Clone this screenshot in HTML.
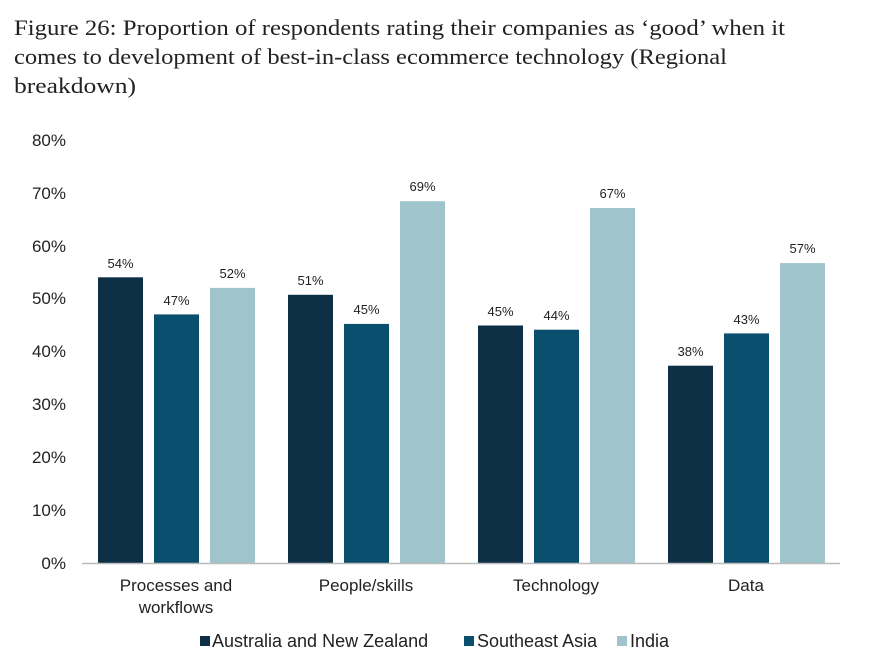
<!DOCTYPE html>
<html><head><style>
body{margin:0;background:#fff;width:870px;height:670px;overflow:hidden}
svg{display:block}
.t{font-family:"Liberation Serif",serif;font-size:22px;fill:#222}
.a{font-family:"Liberation Sans",sans-serif;font-size:17px;fill:#222}
.l{font-family:"Liberation Sans",sans-serif;font-size:18px;fill:#222}
.v{font-family:"Liberation Sans",sans-serif;font-size:13px;fill:#222}
</style></head><body>
<svg width="870" height="670" xmlns="http://www.w3.org/2000/svg">
<text class="t" x="14" y="35" textLength="771" lengthAdjust="spacingAndGlyphs">Figure 26: Proportion of respondents rating their companies as ‘good’ when it</text>
<text class="t" x="14" y="64" textLength="713" lengthAdjust="spacingAndGlyphs">comes to development of best-in-class ecommerce technology (Regional</text>
<text class="t" x="14" y="93" textLength="122" lengthAdjust="spacingAndGlyphs">breakdown)</text>
<g class="a" text-anchor="end">
<text x="66" y="569">0%</text><text x="66" y="516">10%</text><text x="66" y="463">20%</text><text x="66" y="410">30%</text><text x="66" y="357">40%</text><text x="66" y="304">50%</text><text x="66" y="252">60%</text><text x="66" y="199">70%</text><text x="66" y="146">80%</text>
</g>
<rect x="98" y="277.3" width="45" height="285.7" fill="#0e3047"/>
<rect x="154" y="314.4" width="45" height="248.6" fill="#0a4f6e"/>
<rect x="210" y="287.9" width="45" height="275.1" fill="#a0c4cc"/>
<rect x="288" y="294.8" width="45" height="268.2" fill="#0e3047"/>
<rect x="344" y="323.9" width="45" height="239.1" fill="#0a4f6e"/>
<rect x="400" y="201.2" width="45" height="361.8" fill="#a0c4cc"/>
<rect x="478" y="325.5" width="45" height="237.5" fill="#0e3047"/>
<rect x="534" y="329.7" width="45" height="233.3" fill="#0a4f6e"/>
<rect x="590" y="208.0" width="45" height="355.0" fill="#a0c4cc"/>
<rect x="668" y="365.7" width="45" height="197.3" fill="#0e3047"/>
<rect x="724" y="333.4" width="45" height="229.6" fill="#0a4f6e"/>
<rect x="780" y="263.1" width="45" height="299.9" fill="#a0c4cc"/>
<g class="v" text-anchor="middle">
<text x="120.5" y="268">54%</text><text x="176.5" y="305">47%</text><text x="232.5" y="278">52%</text>
<text x="310.5" y="285">51%</text><text x="366.5" y="314">45%</text><text x="422.5" y="191">69%</text>
<text x="500.5" y="316">45%</text><text x="556.5" y="320">44%</text><text x="612.5" y="198">67%</text>
<text x="690.5" y="356">38%</text><text x="746.5" y="324">43%</text><text x="802.5" y="253">57%</text>
</g>
<line x1="82" y1="563.5" x2="840" y2="563.5" stroke="#bbb" stroke-width="1.5"/>
<g class="a" text-anchor="middle">
<text x="176" y="591">Processes and</text><text x="176" y="613">workflows</text>
<text x="366" y="591">People/skills</text>
<text x="556" y="591">Technology</text>
<text x="746" y="591">Data</text>
</g>
<rect x="200" y="636" width="10" height="10" fill="#0e3047"/>
<text class="l" x="212" y="647">Australia and New Zealand</text>
<rect x="464" y="636" width="10" height="10" fill="#0a4f6e"/>
<text class="l" x="477" y="647">Southeast Asia</text>
<rect x="617" y="636" width="10" height="10" fill="#a0c4cc"/>
<text class="l" x="630" y="647">India</text>
</svg>
</body></html>
